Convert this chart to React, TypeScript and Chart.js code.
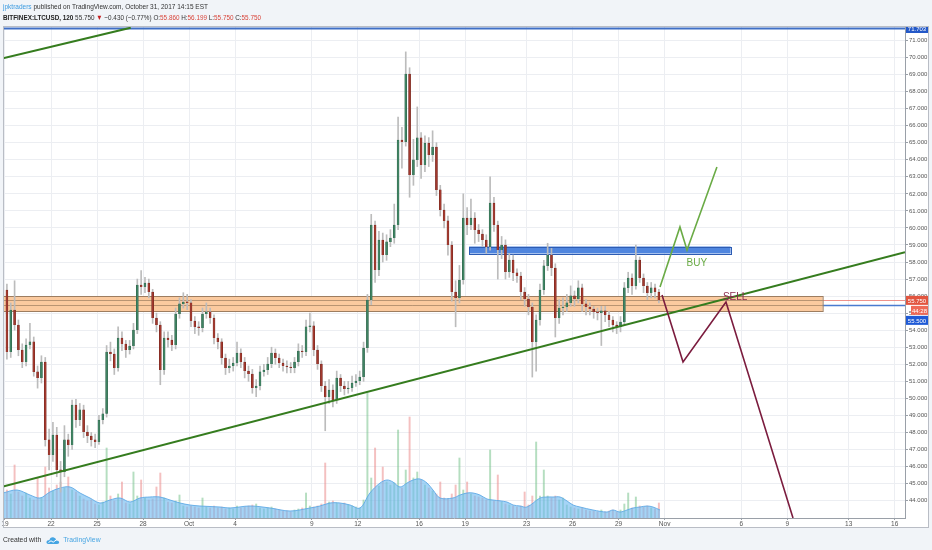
import React, { useEffect, useLayoutEffect, useRef } from 'react';
import { Chart, registerables } from 'chart.js';

Chart.register(...registerables);

const FONT = '"Liberation Sans", Arial, sans-serif';

// ---- price data: 6-hour candles from Sep 19 00:00 (day 0) ----
const barDays = 0.25;
const firstOpen = 56.36;
const closes = [
  52.72, 55.18, 54.30, 52.84, 52.13, 53.13, 53.31, 51.55, 51.19, 52.13,
  47.56, 46.68, 47.85, 45.80, 45.68, 47.56, 47.26, 49.61, 48.73, 49.32,
  48.02, 47.79, 47.56, 47.44, 48.73, 49.09, 52.72, 52.60, 51.78, 53.54,
  53.19, 52.84, 53.07, 54.01, 56.65, 56.53, 56.77, 56.24, 54.71, 54.30,
  51.66, 53.54, 53.42, 53.13, 54.95, 55.54, 55.65, 55.60, 54.54, 54.19,
  54.13, 54.95, 55.07, 54.71, 53.54, 53.31, 52.37, 51.78, 51.90, 52.07,
  52.66, 52.13, 51.60, 51.43, 50.61, 50.72, 51.55, 51.66, 52.01, 52.66,
  52.37, 52.07, 51.90, 51.84, 51.78, 52.13, 52.78, 52.72, 54.19, 54.25,
  52.84, 52.01, 50.72, 50.08, 50.49, 49.90, 51.19, 50.72, 50.55, 50.61,
  50.90, 51.02, 51.25, 52.95, 55.77, 60.17, 57.53, 59.29, 58.41, 59.18,
  59.41, 60.17, 65.16, 65.04, 69.03, 63.11, 63.99, 65.28, 63.69, 64.98,
  64.28, 64.75, 62.23, 61.05, 60.41, 59.00, 56.24, 55.89, 56.94, 60.58,
  60.17, 60.58, 59.88, 59.64, 59.29, 58.88, 61.46, 60.17, 58.71, 59.00,
  57.41, 58.12, 57.36, 57.18, 56.24, 55.83, 55.36, 53.31, 54.60, 56.36,
  57.77, 58.41, 57.65, 54.71, 55.30, 55.36, 55.60, 56.01, 55.83, 56.48,
  55.54, 55.36, 55.24, 55.07, 55.01, 55.13, 54.89, 54.60, 54.30, 54.19,
  54.48, 56.48, 57.06, 56.59, 58.12, 57.06, 56.59, 56.18, 56.48, 56.24,
  55.75,
];
const highs = [
  56.70, 55.60, 56.90, 54.60, 53.20, 53.50, 54.40, 53.60, 51.90, 52.50,
  52.40, 48.20, 48.60, 48.30, 46.30, 48.40, 47.90, 49.90, 49.95, 49.70,
  49.60, 48.40, 48.00, 47.90, 49.00, 49.40, 53.10, 53.30, 52.90, 54.20,
  53.90, 53.40, 53.40, 54.40, 57.00, 57.50, 57.10, 57.00, 56.40, 55.00,
  54.50, 53.90, 53.90, 53.70, 55.30, 55.90, 56.20, 56.10, 55.80, 54.80,
  54.50, 55.30, 55.60, 55.30, 54.90, 53.80, 53.50, 52.60, 52.30, 52.40,
  53.30, 52.90, 52.40, 51.90, 51.70, 51.10, 51.90, 52.00, 52.40, 53.00,
  52.90, 52.60, 52.30, 52.20, 52.10, 52.40, 53.20, 53.10, 54.60, 55.00,
  54.50, 53.10, 52.20, 51.00, 51.10, 50.80, 51.60, 51.40, 51.00, 51.00,
  51.30, 51.40, 51.60, 53.30, 56.10, 60.80, 60.40, 59.80, 59.70, 59.60,
  59.90, 61.40, 66.50, 65.90, 70.33, 69.40, 65.20, 67.10, 65.60, 65.40,
  65.30, 65.70, 65.00, 62.50, 61.40, 60.70, 59.20, 56.90, 57.80, 62.00,
  61.20, 61.70, 60.90, 60.20, 59.90, 59.60, 63.00, 61.80, 60.40, 59.50,
  59.30, 58.50, 58.40, 57.60, 57.40, 56.50, 56.10, 55.60, 54.90, 56.70,
  58.10, 59.10, 58.80, 57.90, 55.80, 55.90, 56.10, 56.60, 56.30, 56.90,
  56.70, 55.80, 55.60, 55.40, 55.30, 55.40, 55.40, 55.10, 54.80, 54.50,
  54.80, 56.80, 57.40, 57.30, 59.00, 58.30, 57.30, 56.80, 56.80, 56.70,
  56.40,
];
const lows = [
  52.30, 52.40, 54.00, 52.50, 51.80, 51.90, 52.90, 51.30, 50.60, 50.90,
  47.20, 45.80, 46.30, 45.40, 44.50, 45.40, 46.60, 47.00, 48.30, 48.40,
  47.70, 47.40, 47.20, 47.10, 47.30, 48.50, 48.90, 52.20, 51.40, 51.60,
  52.80, 52.40, 52.60, 52.90, 53.80, 56.10, 56.20, 55.90, 54.40, 53.90,
  50.80, 51.40, 53.00, 52.80, 52.90, 54.70, 55.30, 55.20, 54.20, 53.80,
  53.70, 53.90, 54.70, 54.40, 53.20, 52.90, 52.00, 51.40, 51.50, 51.60,
  51.90, 51.80, 51.20, 51.00, 50.30, 50.10, 50.50, 51.30, 51.40, 51.80,
  52.00, 51.80, 51.60, 51.50, 51.50, 51.50, 51.90, 52.40, 52.50, 53.90,
  52.50, 51.70, 50.40, 48.10, 49.70, 49.50, 49.70, 50.40, 50.20, 50.30,
  50.40, 50.70, 50.80, 51.00, 52.70, 55.50, 56.80, 57.20, 58.00, 58.10,
  58.90, 59.10, 59.90, 63.50, 64.80, 61.80, 62.50, 63.60, 62.90, 63.30,
  63.60, 63.90, 61.90, 60.70, 60.00, 58.40, 55.70, 54.20, 55.60, 56.70,
  59.60, 59.90, 59.10, 59.20, 58.90, 58.50, 58.70, 59.80, 57.00, 58.20,
  57.00, 57.10, 56.90, 56.80, 55.80, 55.40, 54.90, 51.25, 51.60, 54.30,
  56.10, 57.50, 57.20, 53.60, 54.40, 54.90, 55.10, 55.40, 55.40, 55.60,
  55.10, 54.90, 54.90, 54.70, 54.60, 53.10, 54.50, 54.20, 53.90, 53.80,
  53.90, 54.30, 56.20, 56.10, 56.40, 56.80, 56.20, 55.80, 55.90, 55.90,
  55.60,
];
// volume per candle (thousand LTC)
const volumes = [
  28, 24, 53, 26, 22, 25, 20, 18, 40, 20,
  51, 30, 27, 33, 36, 30, 41, 28, 26, 22,
  19, 17, 18, 14, 13, 16, 70, 22, 17, 24,
  36, 15, 14, 46, 22, 38, 20, 18, 19, 31,
  45, 20, 16, 15, 17, 23, 12, 11, 12, 11,
  10, 20, 11, 10, 12, 10, 11, 9, 10, 9,
  12, 10, 11, 12, 13, 14, 10, 9, 10, 11,
  9, 8, 7, 7, 6, 8, 9, 10, 25, 12,
  11, 12, 14, 55, 16, 17, 15, 14, 15, 13,
  12, 11, 10, 18, 125, 40, 70, 32, 51, 36,
  33, 35, 88, 30, 48, 101, 40, 46, 38, 33,
  30, 27, 24, 36, 20, 19, 24, 33, 60, 28,
  36, 24, 22, 21, 20, 18, 68, 17, 43, 16,
  14, 13, 12, 11, 12, 26, 13, 22, 76, 22,
  48, 22, 20, 22, 18, 20, 13, 11, 10, 9,
  10, 8, 7, 7, 6, 8, 6, 7, 8, 6,
  8, 14, 25, 10, 21, 12, 11, 12, 10, 9,
  15,
];
const volumeAxisMax = 491;
// volume moving average (the blue area)
const maDays = [
  -0.13, 0.78, 1.63, 2.28, 2.93, 3.59, 4.24, 4.89, 5.54, 6.19, 6.84, 7.5, 8.15, 8.8, 9.45,
  10.1, 10.76, 11.41, 12.06, 12.71, 14.02, 14.67, 15.97, 17.28, 18.58, 19.88, 20.53, 21.19,
  21.84, 22.49, 23.14, 23.79, 24.45, 24.9, 25.29, 25.75, 26.21, 26.6, 27.05, 27.51, 27.9,
  28.36, 29.2, 29.66, 30.12, 30.51, 30.96, 31.42, 31.81, 32.72, 33.12, 33.57, 34.03, 34.88,
  35.33, 35.72, 36.18, 36.64, 37.03, 37.48, 38.33, 39.24, 39.63, 40.09, 40.55, 40.94, 41.4,
  41.85, 42.24, 42.7,
];
const maValues = [
  25, 28, 23, 20, 26, 30, 31, 25, 20, 15, 18, 20, 16, 20, 21, 21, 18, 15, 13, 12,
  11, 10, 12, 10, 7, 10, 12, 15, 15, 13, 10, 25, 35, 38, 36, 31, 35, 38, 39, 35,
  28, 20, 20, 23, 25, 25, 23, 19, 18, 16, 13, 12, 11, 20, 21, 21, 21, 17, 13, 11,
  8, 6, 8, 6, 8, 10, 11, 12, 11, 8,
];

// ---- axes ----
const xMinDay = -0.13;
const xMaxDay = 58.67;
const yMinPrice = 42.98;
const yMaxPrice = 71.79;
const tickDays = [0, 3, 6, 9, 12, 15, 20, 23, 27, 30, 34, 37, 40, 43, 48, 51, 55, 58];
const tickLabels = ['19', '22', '25', '28', 'Oct', '4', '9', '12', '16', '19', '23', '26', '29', 'Nov', '6', '9', '13', '16'];
const priceTicks = [44, 45, 46, 47, 48, 49, 50, 51, 52, 53, 54, 55, 56, 57, 58, 59, 60, 61, 62, 63, 64, 65, 66, 67, 68, 69, 70, 71];

// ---- drawings ----
const lowerTrendDays = [-0.13, 58.67];
const lowerTrendPrices = [44.83, 58.58];
const upperTrendDays = [-0.13, 8.2];
const upperTrendPrices = [69.95, 71.75];
const buyDays = [42.7, 44.0, 44.46, 46.41];
const buyPrices = [56.53, 60.06, 58.71, 63.58];
const sellDays = [42.83, 44.2, 47.0, 51.37];
const sellPrices = [56.06, 52.13, 55.65, 42.98];
const orangeZoneDays = [-0.13, 53.3];
const orangeZonePrices = [55.99, 55.78, 55.45, 55.11];
const blueZoneDays = [30.25, 47.3];
const blueZonePrices = [58.91, 58.5];
const topLevelPrice = 71.703;
const lastPrice = 55.75;
const hLinePrice = 55.5;
const countdownText = '44:28';
const noteTexts = ['BUY', 'SELL'];
const noteDays = [45.1, 47.6];
const notePrices = [57.94, 55.95];

// ---- header ----
const symbolText = 'BITFINEX:LTCUSD, 120';
const changeText = '\u22120.430 (\u22120.77%)';
const ohlcLabels = ['O:', 'H:', 'L:', 'C:'];
const ohlcValues = [55.86, 56.199, 55.75, 55.75];

const pts = (xs: number[], ys: number[]) => xs.map((x, i) => ({ x, y: ys[i] }));

export default function App() {
  const canvasRef = useRef<HTMLCanvasElement>(null);
  const line1Ref = useRef<HTMLDivElement>(null);
  const line2Ref = useRef<HTMLDivElement>(null);

  useLayoutEffect(() => {
    const fit = (el: HTMLDivElement | null, target: number) => {
      if (!el) return;
      el.style.transform = 'none';
      const w = el.getBoundingClientRect().width;
      if (w > 0) el.style.transform = `scaleX(${target / w})`;
    };
    fit(line1Ref.current, 205);
    fit(line2Ref.current, 258);
  }, []);

  useEffect(() => {
    const canvas = canvasRef.current;
    if (!canvas) return;
    const opens = closes.map((c, i) => (i === 0 ? firstOpen : closes[i - 1]));
    const days = closes.map((_, i) => (i + 0.5) * barDays);
    const isUp = closes.map((c, i) => c >= opens[i]);

    const drawPlugin = {
      id: 'tvDrawings',
      beforeDraw(chart: any) {
        const ctx = chart.ctx;
        ctx.save();
        ctx.fillStyle = '#ffffff';
        ctx.fillRect(3, 26, 926, 502);
        ctx.restore();
      },
      beforeDatasetsDraw(chart: any) {
        const { ctx, chartArea: a, scales } = chart;
        const x = scales.x;
        const y = scales.y;
        ctx.save();
        ctx.beginPath();
        ctx.rect(a.left, a.top, a.right - a.left, a.bottom - a.top);
        ctx.clip();
        const hline = (price: number, color: string, w: number) => {
          const py = Math.round(y.getPixelForValue(price)) + 0.5;
          ctx.strokeStyle = color;
          ctx.lineWidth = w;
          ctx.beginPath();
          ctx.moveTo(a.left, py);
          ctx.lineTo(a.right, py);
          ctx.stroke();
        };
        hline(topLevelPrice, '#3f6fc6', 2);
        hline(lastPrice, 'rgba(232,110,100,0.75)', 1);
        hline(hLinePrice, '#4a7bd0', 1.5);

        // orange support zone
        const ox0 = x.getPixelForValue(orangeZoneDays[0]);
        const ox1 = x.getPixelForValue(orangeZoneDays[1]);
        const oyT = y.getPixelForValue(orangeZonePrices[0]);
        const oyB = y.getPixelForValue(orangeZonePrices[3]);
        ctx.fillStyle = '#fbca9f';
        ctx.fillRect(ox0, oyT, ox1 - ox0, oyB - oyT);
        ctx.strokeStyle = '#9d7d60';
        ctx.lineWidth = 1;
        ctx.strokeRect(ox0 + 0.5, Math.round(oyT) + 0.5, ox1 - ox0, Math.round(oyB - oyT));
        [orangeZonePrices[1], orangeZonePrices[2]].forEach((p) => {
          const py = Math.round(y.getPixelForValue(p)) + 0.5;
          ctx.strokeStyle = 'rgba(157,125,96,0.7)';
          ctx.beginPath();
          ctx.moveTo(ox0, py);
          ctx.lineTo(ox1, py);
          ctx.stroke();
        });

        // blue resistance zone
        const bx0 = x.getPixelForValue(blueZoneDays[0]);
        const bx1 = x.getPixelForValue(blueZoneDays[1]);
        const byT = y.getPixelForValue(blueZonePrices[0]);
        const byB = y.getPixelForValue(blueZonePrices[1]);
        ctx.fillStyle = '#4f85de';
        ctx.fillRect(bx0, byT, bx1 - bx0, byB - byT);
        ctx.strokeStyle = '#2d5cb3';
        ctx.strokeRect(Math.round(bx0) + 0.5, Math.round(byT) + 0.5, Math.round(bx1 - bx0), Math.round(byB - byT));
        ctx.restore();
      },
      afterDatasetsDraw(chart: any) {
        const { ctx, scales } = chart;
        const colors = ['#6aab45', '#8a2a4c'];
        ctx.save();
        ctx.font = `10px ${FONT}`;
        ctx.textAlign = 'center';
        ctx.textBaseline = 'middle';
        noteTexts.forEach((t, i) => {
          ctx.fillStyle = colors[i];
          ctx.fillText(t, scales.x.getPixelForValue(noteDays[i]), scales.y.getPixelForValue(notePrices[i]));
        });
        ctx.restore();
      },
      afterDraw(chart: any) {
        const { ctx, chartArea: a, scales } = chart;
        const y = scales.y;
        ctx.save();
        ctx.beginPath();
        ctx.rect(3, 26, 926, 502);
        ctx.clip();
        const boxH = 9;
        const box = (cy: number, text: string, bg: string, x0: number) => {
          ctx.fillStyle = bg;
          ctx.fillRect(x0, cy - boxH / 2, 928 - x0, boxH);
          ctx.fillStyle = '#ffffff';
          ctx.font = `6px ${FONT}`;
          ctx.textAlign = 'center';
          ctx.textBaseline = 'middle';
          ctx.fillText(text, (x0 + 928) / 2, cy + 0.5);
        };
        box(y.getPixelForValue(topLevelPrice), topLevelPrice.toFixed(3), '#2358c8', a.right + 1);
        const lastY = y.getPixelForValue(lastPrice);
        box(lastY, lastPrice.toFixed(3), '#e2553f', a.right + 1);
        box(lastY + 10, countdownText, '#ee6a57', a.right + 6);
        box(lastY + 20, hLinePrice.toFixed(3), '#1f5ad6', a.right + 1);
        ctx.restore();
        // panel border
        ctx.save();
        ctx.strokeStyle = '#b9bdc5';
        ctx.lineWidth = 1;
        ctx.strokeRect(3.5, 26.5, 925, 501);
        ctx.restore();
      },
    };

    const chart = new Chart(canvas, {
      type: 'bar',
      data: {
        datasets: [
          {
            type: 'bar',
            label: 'Volume',
            yAxisID: 'yVol',
            data: volumes.map((v, i) => ({ x: days[i], y: v })),
            backgroundColor: volumes.map((_, i) => (isUp[i] ? 'rgba(120,195,140,0.55)' : 'rgba(235,140,140,0.55)')),
            barThickness: 1.3,
            grouped: false,
            order: 10,
          } as any,
          {
            type: 'line',
            label: 'Volume MA',
            yAxisID: 'yVol',
            data: pts(maDays, maValues),
            borderColor: 'rgba(95,170,230,0.9)',
            borderWidth: 1,
            backgroundColor: 'rgba(110,185,240,0.62)',
            fill: 'origin',
            tension: 0.35,
            pointRadius: 0,
            order: 9,
          } as any,
          {
            type: 'bar',
            label: 'Wicks',
            yAxisID: 'y',
            data: closes.map((_, i) => ({ x: days[i], y: [lows[i], highs[i]] })),
            backgroundColor: '#bcbcbc',
            barThickness: 1,
            grouped: false,
            order: 6,
          } as any,
          {
            type: 'bar',
            label: 'Bodies',
            yAxisID: 'y',
            data: closes.map((c, i) => ({ x: days[i], y: [opens[i], c] })),
            backgroundColor: closes.map((_, i) => (isUp[i] ? '#3f8463' : '#a3392e')),
            borderColor: closes.map((_, i) => (isUp[i] ? '#2c5e46' : '#6e221b')),
            borderWidth: 0.5,
            barThickness: 2,
            minBarLength: 1,
            grouped: false,
            order: 5,
          } as any,
          {
            type: 'line',
            label: 'Lower trend',
            yAxisID: 'y',
            data: pts(lowerTrendDays, lowerTrendPrices),
            borderColor: '#357c1e',
            borderWidth: 2,
            pointRadius: 0,
            fill: false,
            order: 2,
          } as any,
          {
            type: 'line',
            label: 'Upper trend',
            yAxisID: 'y',
            data: pts(upperTrendDays, upperTrendPrices),
            borderColor: '#357c1e',
            borderWidth: 2,
            pointRadius: 0,
            fill: false,
            order: 2,
          } as any,
          {
            type: 'line',
            label: 'Buy path',
            yAxisID: 'y',
            data: pts(buyDays, buyPrices),
            borderColor: '#6aab45',
            borderWidth: 1.6,
            pointRadius: 0,
            fill: false,
            order: 1,
          } as any,
          {
            type: 'line',
            label: 'Sell path',
            yAxisID: 'y',
            data: pts(sellDays, sellPrices),
            borderColor: '#7b1c3e',
            borderWidth: 1.6,
            pointRadius: 0,
            fill: false,
            order: 1,
          } as any,
        ],
      },
      options: {
        animation: false,
        responsive: false,
        maintainAspectRatio: false,
        devicePixelRatio: 1,
        events: [],
        layout: { padding: { left: 3, top: 27, right: 3, bottom: 22 } },
        plugins: { legend: { display: false }, tooltip: { enabled: false } },
        scales: {
          x: {
            type: 'linear',
            min: xMinDay,
            max: xMaxDay,
            bounds: 'data',
            offset: false,
            grid: { color: '#eceef2', offset: false, tickLength: 2, tickColor: '#9aa0a8' },
            border: { color: '#9aa0a8' },
            ticks: {
              autoSkip: false,
              maxRotation: 0,
              padding: 0,
              color: '#555',
              font: { family: FONT, size: 6.5 },
              callback: (_v: any, i: number) => tickLabels[i] ?? '',
            },
            afterBuildTicks: (s: any) => {
              s.ticks = tickDays.map((v) => ({ value: v }));
            },
            afterFit: (s: any) => {
              s.height = 10;
              s.paddingLeft = 0;
              s.paddingRight = 0;
            },
          },
          y: {
            type: 'linear',
            position: 'right',
            min: yMinPrice,
            max: yMaxPrice,
            bounds: 'data',
            grid: { color: '#eceef2', tickLength: 3, tickColor: '#9aa0a8' },
            border: { color: '#9aa0a8' },
            ticks: {
              padding: 1,
              color: '#555',
              font: { family: FONT, size: 6 },
              callback: (v: any) => Number(v).toFixed(3),
            },
            afterBuildTicks: (s: any) => {
              s.ticks = priceTicks.map((v) => ({ value: v }));
            },
            afterFit: (s: any) => {
              s.width = 24;
              s.paddingTop = 0;
              s.paddingBottom = 0;
            },
          },
          yVol: {
            type: 'linear',
            display: false,
            min: 0,
            max: volumeAxisMax,
          },
        },
      } as any,
      plugins: [drawPlugin],
    });
    return () => chart.destroy();
  }, []);

  const red = '#d9463b';
  return (
    <div
      style={{
        position: 'absolute',
        left: 0,
        top: 0,
        width: 932,
        height: 550,
        overflow: 'hidden',
        background: '#f1f4f8',
        fontFamily: FONT,
      }}
    >
      <canvas ref={canvasRef} width={932} height={550} style={{ position: 'absolute', left: 0, top: 0, width: 932, height: 550 }} />
      <div
        ref={line1Ref}
        style={{ position: 'absolute', left: 3, top: 2, fontSize: 7.5, lineHeight: '9px', whiteSpace: 'nowrap', transformOrigin: 'left center', color: '#333' }}
      >
        <span style={{ color: '#3c9be0' }}>jpktraders</span> published on TradingView.com, October 31, 2017 14:15 EST
      </div>
      <div
        ref={line2Ref}
        style={{ position: 'absolute', left: 3, top: 13, fontSize: 7.5, lineHeight: '9px', whiteSpace: 'nowrap', transformOrigin: 'left center', color: '#333' }}
      >
        <b style={{ color: '#222' }}>{symbolText}</b> {lastPrice.toFixed(3)} <span style={{ color: '#c41f1f' }}>{'\u25BC'}</span> {changeText}{' '}
        {ohlcLabels.map((l, i) => (
          <span key={l}>
            {i > 0 ? ' ' : ''}
            {l}
            <span style={{ color: red }}>{ohlcValues[i].toFixed(3)}</span>
          </span>
        ))}
      </div>
      <div style={{ position: 'absolute', left: 3, top: 535, fontSize: 6.8, lineHeight: '10px', whiteSpace: 'nowrap', color: '#333', display: 'flex', alignItems: 'center' }}>
        <span>Created with</span>
        <svg width="14" height="9" viewBox="0 0 14 9" style={{ marginLeft: 5, marginRight: 3 }}>
          <path d="M2.5 8 Q0 8 0.6 5.6 Q1.3 3.8 3.4 4.3 Q4 1 7.2 1.3 Q10 1.7 10.2 4.4 Q13 4.3 13.2 6.3 Q13.3 8 11.2 8 Z" fill="#45a5e3" />
          <path d="M2.5 6.5 L5 4.8 L7.2 6.2 L10.5 3.8" stroke="#ffffff" strokeWidth="1" fill="none" />
        </svg>
        <span style={{ color: '#49a6e3' }}>TradingView</span>
      </div>
    </div>
  );
}
